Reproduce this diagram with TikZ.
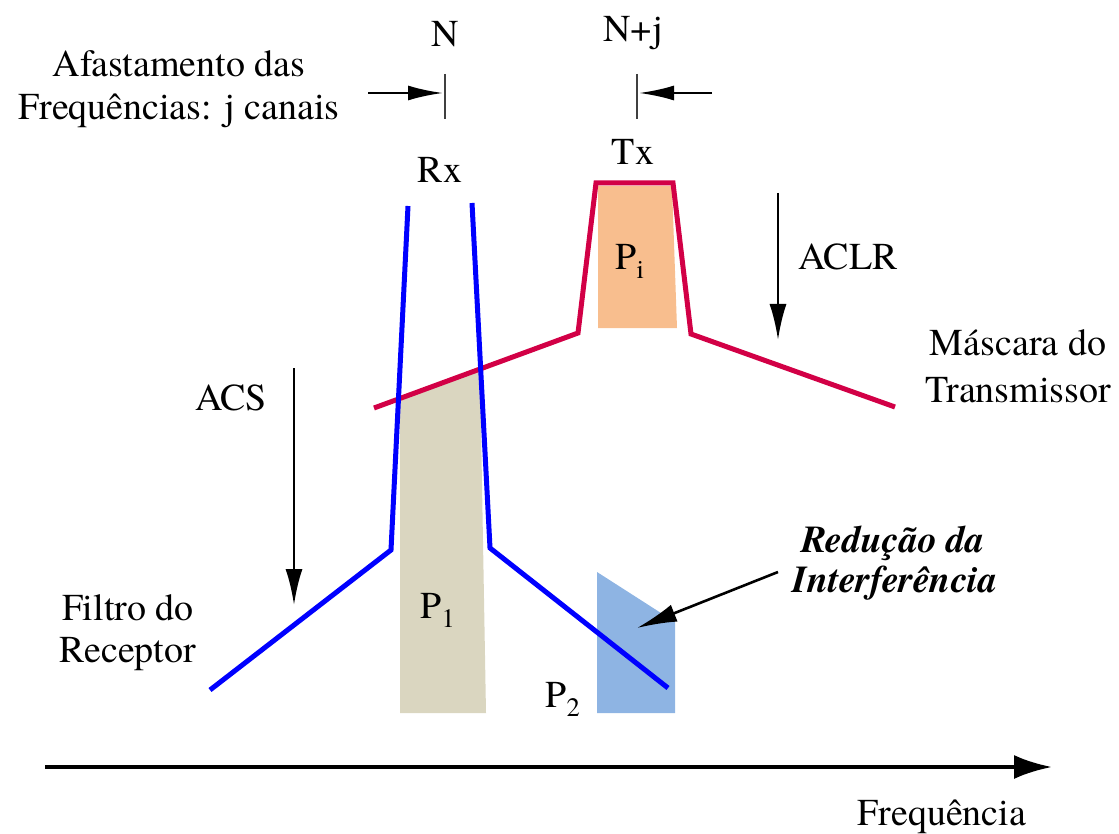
\documentclass[tikz,border=0pt]{standalone}
\usepackage{fontspec}
\setmainfont{texgyretermes-regular.otf}[BoldFont=texgyretermes-bold.otf, ItalicFont=texgyretermes-italic.otf, BoldItalicFont=texgyretermes-bolditalic.otf]
\usetikzlibrary{arrows.meta}
\definecolor{maskred}{RGB}{210,0,70}
\definecolor{filtblue}{RGB}{0,0,255}
\definecolor{beige}{RGB}{218,214,192}
\definecolor{peach}{RGB}{248,190,142}
\definecolor{lblue}{RGB}{142,180,227}
\begin{document}
\begin{tikzpicture}[x=1pt,y=-1pt,
  lbl/.style={font=\fontsize{38}{44}\selectfont, inner sep=0pt, anchor=base},
  bigarrow/.style={line width=2.6pt, -{Latex[length=36pt,width=17pt]}},
  smallarrow/.style={line width=2.6pt, -{Latex[length=35pt,width=15pt]}},
  axisarrow/.style={line width=4pt, -{Latex[length=38pt,width=24pt]}},
  tickline/.style={line width=1.5pt, draw=black!75},
  maskline/.style={draw=maskred, line width=5pt, line join=miter},
  filtline/.style={draw=filtblue, line width=5pt, line join=miter}]
\useasboundingbox (0,0) rectangle (1119,834);

% fills
\fill[beige] (400,713) -- (400,401) -- (480,370) -- (486,713) -- cycle;
\fill[peach] (598,186) -- (672,186) -- (677,328) -- (598,328) -- cycle;
\fill[lblue] (597,713) -- (597,572) -- (675,622) -- (675,713) -- cycle;

% transmitter mask
\coordinate (m1) at (374,408);
\coordinate (m2) at (578,333);
\coordinate (m3) at (596,183);
\coordinate (m4) at (673,183);
\coordinate (m5) at (691,334);
\coordinate (m6) at (895,407);
\draw[maskline] (m1) -- (m2) -- (m3) -- (m4) -- (m5) -- (m6);

% receiver filter
\coordinate (f1) at (210,690);
\coordinate (f2) at (391,550);
\coordinate (f3) at (408,206);
\coordinate (f4) at (472,203);
\coordinate (f5) at (490,548);
\coordinate (f6) at (668,688);
\draw[filtline] (f1) -- (f2) -- (f3);
\draw[filtline] (f4) -- (f5) -- (f6);

% labels
\node[lbl] (N) at (445,47) {N};
\node[lbl] (Nj) at (633,42) {N+j};
\node[lbl] (afa1) at (179,77) {Afastamento das};
\node[lbl] (afa2) at (179,120) {Frequências: j canais};
\node[lbl] (rx) at (440,183) {Rx};
\node[lbl] (tx) at (633,165) {Tx};
\node[lbl] (aclr) at (848,270) {ACLR};
\node[lbl] (acs) at (231,410) {ACS};
\node[lbl] (mas1) at (1018,355) {Máscara do};
\node[lbl] (mas2) at (1018,402) {Transmissor};
\node[lbl] (fil1) at (128,620) {Filtro do};
\node[lbl] (fil2) at (128,662) {Receptor};
\node[lbl] (red1) at (893,552) {\bfseries\itshape Redução da};
\node[lbl] (red2) at (895,592) {\bfseries\itshape Interferência};
\node[lbl] (freq) at (942,825) {Frequência};
\node[lbl] (p1) at (438,618) {P\textsubscript{1}};
\node[lbl] (p2) at (563,707) {P\textsubscript{2}};
\node[lbl] (pi) at (630,270) {P\textsubscript{i}};

% channel separation markers
\coordinate (tNa) at (445,74);
\coordinate (tNb) at (445,119);
\coordinate (tJa) at (637,74);
\coordinate (tJb) at (637,119);
\draw[tickline] (tNa) -- (tNb);
\draw[tickline] (tJa) -- (tJb);
\coordinate (aNs) at (368,93);
\coordinate (aNe) at (443,93);
\coordinate (aJs) at (712,93);
\coordinate (aJe) at (639,93);
\draw[smallarrow] (aNs) -- (aNe);
\draw[smallarrow] (aJs) -- (aJe);

% ACS / ACLR arrows
\coordinate (acsA) at (294,368);
\coordinate (acsB) at (294,605);
\draw[bigarrow] (acsA) -- (acsB);
\coordinate (aclrA) at (778,193);
\coordinate (aclrB) at (778,340);
\draw[bigarrow] (aclrA) -- (aclrB);

% interference reduction arrow
\coordinate (rA) at (778,572);
\coordinate (rB) at (637,628);
\draw[line width=2.6pt, -{Latex[length=40pt,width=18pt]}] (rA) -- (rB);

% frequency axis
\coordinate (ax1) at (45,767);
\coordinate (ax2) at (1052,767);
\draw[axisarrow] (ax1) -- (ax2);
\end{tikzpicture}
\end{document}
